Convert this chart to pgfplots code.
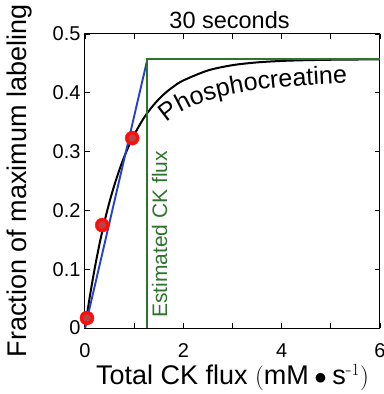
\documentclass[border=0pt]{standalone}
\usepackage{fontspec}
\setmainfont{Liberation Sans}
\usepackage{amsmath}
\usepackage{pgfplots}
\pgfplotsset{compat=1.18}
\usetikzlibrary{decorations.text}
\definecolor{cgreen}{rgb}{0.18,0.45,0.18}
\definecolor{cblue}{rgb}{0.15,0.25,0.80}
\definecolor{cred}{rgb}{1.0,0.05,0.05}
\definecolor{cdark}{rgb}{0.72,0.27,0.27}
\begin{document}
\begin{tikzpicture}
\begin{axis}[
  scale only axis, width=295pt, height=294pt,
  xmin=0, xmax=6, ymin=0, ymax=0.5,
  xtick={0,2,4,6}, minor xtick={1,3,5},
  ytick={0,0.1,0.2,0.3,0.4,0.5},
  yticklabels={0,0.1,0.2,0.3,0.4,0.5},
  tick align=inside, major tick length=5pt, minor tick length=5pt,
  tick style={black, line width=0.8pt},
  axis line style={line width=1pt},
  /pgf/number format/assume math mode=true,
  ticklabel style={font=\fontsize{20}{20}\selectfont},
  xticklabel style={yshift=-12pt},
  yticklabel style={xshift=-1pt},
  every axis x label/.style={at={(axis description cs:0.5,-0.17)}, anchor=center},
  every axis y label/.style={at={(axis description cs:-0.222,0.5)}, anchor=center, rotate=90},
  label style={font=\fontsize{27}{27}\selectfont},
  xlabel={Total CK flux $(\mathrm{mM}\bullet\mathrm{s}^{\text{\fontfamily{lmr}\selectfont -}1})$},
  ylabel={Fraction of maximum labeling},
  title={30 seconds},
  every axis title/.style={at={(axis description cs:0.49,1.048)}, anchor=center, font=\fontsize{23.5}{23.5}\selectfont},
  clip=false,
]
% fitted saturation curve
\addplot[black, line width=2pt, smooth] coordinates {
(0,0) (0.1,0.0545) (0.2,0.1025) (0.3,0.1448) (0.4,0.1820) (0.5,0.2149)
(0.6,0.2437) (0.7,0.2691) (0.8,0.2916) (0.9,0.3112) (1.0,0.3287)
(1.2,0.3575) (1.4,0.3798) (1.6,0.3972) (1.8,0.4106) (2.0,0.4210)
(2.5,0.4380) (3.0,0.4470) (3.5,0.4517) (4.0,0.4542) (4.5,0.4555)
(5.0,0.4562) (5.5,0.4566) (6.0,0.4568)
};
% linear estimate
\addplot[cblue, line width=1.9pt] coordinates {(0,0) (1.27,0.4575)};
% estimated CK flux
\addplot[cgreen, line width=1.9pt] coordinates {(1.27,0) (1.27,0.4575) (6,0.4575)};
% data points
\addplot[only marks, mark=*, mark size=7pt, mark options={fill=cred, draw=cred}] coordinates {
(0.04,0.017) (0.35,0.175) (0.96,0.323)};
\addplot[only marks, mark=*, mark size=3.5pt, mark options={fill=cdark, draw=cdark}] coordinates {
(0.04,0.017) (0.35,0.175) (0.96,0.323)};
\node[rotate=90, anchor=base west, inner sep=0pt, text=cgreen, font=\fontsize{21}{21}\selectfont] at (axis cs:1.67,0.017) {Estimated CK flux};
\path[decorate, decoration={text along path, text align=left,
  text={|\fontsize{25}{25}\selectfont|Phosphocreatine}}]
  (axis cs:1.67,0.349) .. controls (axis cs:2.2,0.392) and (axis cs:3.3,0.413) .. (axis cs:5.95,0.418);
\coordinate (SW) at (rel axis cs:0,0);
\coordinate (NE) at (rel axis cs:1,1);
\end{axis}
\pgfresetboundingbox
\path ([shift={(-85pt,-66pt)}]SW) rectangle ([shift={(4pt,34pt)}]NE);
\end{tikzpicture}
\end{document}
